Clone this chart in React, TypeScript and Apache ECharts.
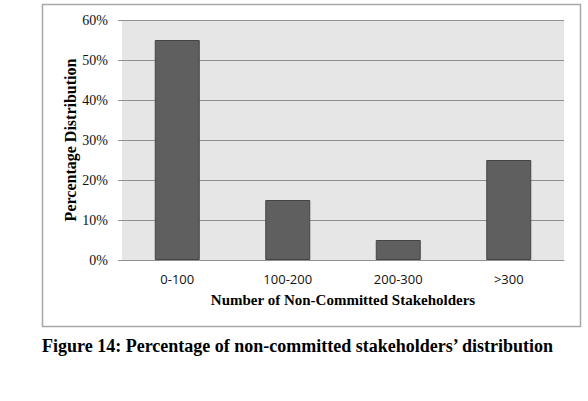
import React, { useEffect, useRef } from "react";
import * as echarts from "echarts";

const categories = ["0-100", "100-200", "200-300", ">300"];
const percentages = [55, 15, 5, 25];
const yTicks = [0, 10, 20, 30, 40, 50, 60];

const xAxisTitle = "Number of Non-Committed Stakeholders";
const yAxisTitle = "Percentage Distribution";
const caption = "Figure 14: Percentage of non-committed stakeholders\u2019 distribution";

const SERIF = "'Liberation Serif', 'Times New Roman', serif";
const SANS = "'Open Sans', 'Liberation Sans', sans-serif";

export default function App() {
  const ref = useRef<HTMLDivElement>(null);

  useEffect(() => {
    if (!ref.current) return;
    const chart = echarts.init(ref.current, null, { renderer: "svg" });
    chart.setOption({
      animation: false,
      backgroundColor: "#ffffff",
      title: {
        text: caption,
        left: 42,
        top: 337,
        padding: 0,
        textStyle: {
          fontFamily: SERIF,
          fontWeight: "bold",
          fontSize: 18,
          color: "#000",
        },
      },
      graphic: [
        {
          type: "rect",
          shape: { x: 42.5, y: 4.5, width: 538, height: 322 },
          style: { fill: "none", stroke: "#a8a8a8", lineWidth: 1.5 },
          z: -1,
        },
      ],
      grid: {
        left: 122,
        top: 20,
        width: 442,
        height: 240,
        show: true,
        backgroundColor: "#e6e6e6",
        borderWidth: 0,
      },
      xAxis: {
        type: "category",
        data: categories,
        name: xAxisTitle,
        nameLocation: "middle",
        nameGap: 32,
        nameMoveOverlap: false,
        nameTextStyle: {
          fontFamily: SERIF,
          fontWeight: "bold",
          fontSize: 15,
          color: "#000",
        },
        axisLine: { show: true, lineStyle: { color: "#8f8f8f", width: 1 } },
        axisTick: { show: false },
        axisLabel: {
          fontFamily: SANS,
          fontSize: 13,
          color: "#111",
          margin: 12,
        },
      },
      yAxis: {
        type: "value",
        min: yTicks[0],
        max: yTicks[yTicks.length - 1],
        interval: 10,
        name: yAxisTitle,
        nameLocation: "middle",
        nameGap: 44,
        nameMoveOverlap: false,
        nameTextStyle: {
          fontFamily: SERIF,
          fontWeight: "bold",
          fontSize: 16,
          color: "#000",
        },
        axisLine: { show: false },
        axisTick: {
          show: true,
          inside: false,
          length: 4,
          lineStyle: { color: "#8f8f8f" },
        },
        splitLine: { show: true, lineStyle: { color: "#8f8f8f", width: 1 } },
        axisLabel: {
          formatter: "{value}%",
          fontFamily: SERIF,
          fontSize: 14,
          color: "#111",
          margin: 14,
        },
      },
      series: [
        {
          type: "bar",
          data: percentages,
          barWidth: 45,
          itemStyle: {
            color: "#5f5f5f",
            borderColor: "#444",
            borderWidth: 1,
          },
        },
      ],
    });
    return () => chart.dispose();
  }, []);

  return (
    <div
      ref={ref}
      style={{ position: "absolute", left: 0, top: 0, width: 588, height: 401 }}
    />
  );
}
